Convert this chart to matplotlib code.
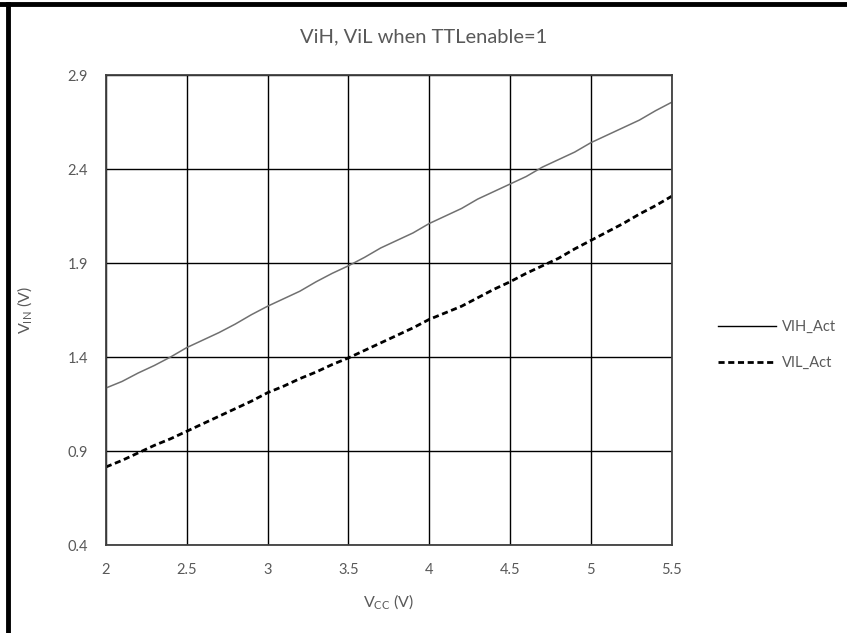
import numpy as np
import matplotlib.pyplot as plt
from matplotlib.lines import Line2D

# supply voltage sweep (V)
vcc = [2.0, 2.1, 2.2, 2.3, 2.4, 2.5, 2.6, 2.7, 2.8, 2.9,
       3.0, 3.1, 3.2, 3.3, 3.4, 3.5, 3.6, 3.7, 3.8, 3.9,
       4.0, 4.1, 4.2, 4.3, 4.4, 4.5, 4.6, 4.7, 4.8, 4.9,
       5.0, 5.1, 5.2, 5.3, 5.4, 5.5]

# input high threshold (V)
vih_act = [1.235, 1.27, 1.315, 1.355, 1.40, 1.45, 1.49, 1.53, 1.575, 1.625,
           1.67, 1.71, 1.75, 1.80, 1.845, 1.885, 1.93, 1.98, 2.02, 2.06,
           2.11, 2.15, 2.19, 2.24, 2.28, 2.32, 2.36, 2.41, 2.45, 2.49,
           2.54, 2.58, 2.62, 2.66, 2.71, 2.755]

# input low threshold (V)
vil_act = [0.815, 0.85, 0.89, 0.93, 0.965, 1.005, 1.045, 1.085, 1.125, 1.165,
           1.21, 1.245, 1.285, 1.32, 1.36, 1.395, 1.435, 1.475, 1.515, 1.555,
           1.60, 1.635, 1.67, 1.715, 1.76, 1.80, 1.845, 1.885, 1.925, 1.975,
           2.02, 2.065, 2.11, 2.16, 2.205, 2.255]

x_ticks = [2, 2.5, 3, 3.5, 4, 4.5, 5, 5.5]
x_labels = ['2', '2.5', '3', '3.5', '4', '4.5', '5', '5.5']
y_ticks = [0.4, 0.9, 1.4, 1.9, 2.4, 2.9]
y_labels = ['0.4', '0.9', '1.4', '1.9', '2.4', '2.9']

text_col = '#595959'
plt.rcParams['font.family'] = ['Lato', 'DejaVu Sans']

fig = plt.figure(figsize=(8.47, 6.33), dpi=100)
ax = fig.add_axes([0.125, 0.139, 0.668, 0.7425])

ax.plot(vcc, vih_act, color='#707070', lw=1.1, solid_capstyle='butt')
ax.plot(vcc, vil_act, color='black', lw=2.0, ls=(0, (2.2, 1.3)))

ax.set_xlim(2, 5.5)
ax.set_ylim(0.4, 2.9)
ax.set_xticks(x_ticks)
ax.set_xticklabels(x_labels)
ax.set_yticks(y_ticks)
ax.set_yticklabels(y_labels)
ax.tick_params(length=0, labelsize=10.5, labelcolor=text_col, pad=13)
ax.grid(True, color='black', lw=1.0)
ax.set_axisbelow(True)
for s in ax.spines.values():
    s.set_color('#404040')
    s.set_linewidth(1.3)

# title is centred on the whole figure in the original
fig.text(0.5, 0.941, 'ViH, ViL when TTLenable=1', fontsize=14.5,
         color=text_col, ha='center', va='center')
ax.set_xlabel('V$_{\\mathregular{CC}}$ (V)', fontsize=11.5, color=text_col, labelpad=11)
ax.set_ylabel('V$_{\\mathregular{IN}}$ (V)', fontsize=11.5, color=text_col, labelpad=23)

# legend handles drawn black like the original
handles = [Line2D([], [], color='black', lw=1.0),
           Line2D([], [], color='black', lw=2.0, ls=(0, (2.2, 1.3)))]
fig.legend(handles, ['VIH_Act', 'VIL_Act'], loc='center left',
           bbox_to_anchor=(0.832, 0.455), frameon=False, fontsize=10.5,
           labelcolor=text_col, handlelength=4.0, handletextpad=0.4,
           labelspacing=1.55)

# frame edges of the original screenshot
fig.add_artist(Line2D([0, 1], [0.9935, 0.9935], color='black', lw=3.5,
                      transform=fig.transFigure))
fig.add_artist(Line2D([0.009, 0.009], [0, 0.9935], color='black', lw=3.5,
                      transform=fig.transFigure))

fig.savefig('out.png', dpi=100)
